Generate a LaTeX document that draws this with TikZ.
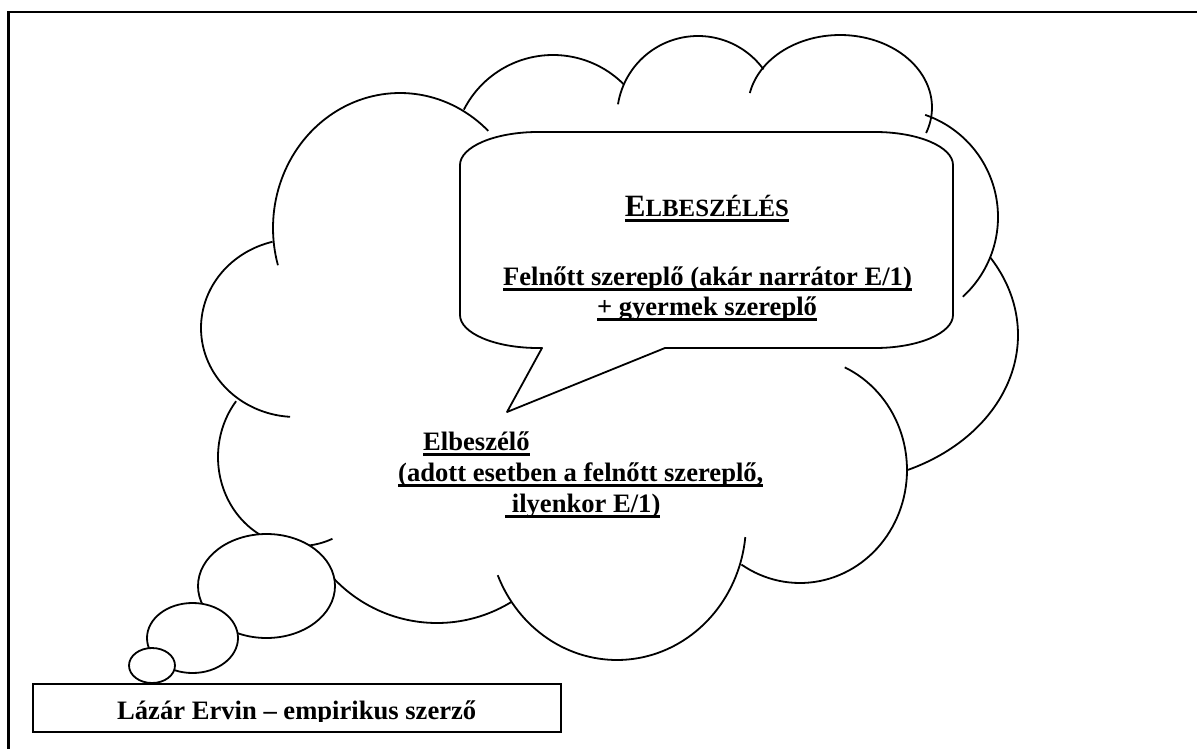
\documentclass[tikz,border=0pt]{standalone}
\usepackage{fontspec}
\setmainfont{Liberation Serif}
\newsavebox\ulsave
% underlined text: a thick rule under the whole box, spaces included
\newcommand\ulbox[1]{\sbox\ulsave{#1}\rlap{\rule[-5.8pt]{\wd\ulsave}{2.6pt}}\usebox\ulsave}
\tikzset{
  outline/.style={line width=1.8pt, black},
  bubble/.style={outline, fill=white, line join=round},
  label/.style={inner sep=0pt, font=\fontsize{26.6}{30.6}\selectfont\bfseries},
}
\begin{document}
\begin{tikzpicture}[x=1pt, y=-1pt]
\useasboundingbox (0,0) rectangle (1197,749);

% page frame (top and left edges)
\draw[line width=2.6pt] (1197,12) -- (8.5,12) -- (8.5,749);

% cloud outline: one elliptic arc per bump (cx/cy/rx/ry/from/to)
\foreach \cx/\cy/\rx/\ry/\a/\b in {
  400/228/127/135/164/314,
  553/155/100/100/207/315,
  698/117/81/81/189/324,
  840/107.5/92/72.5/191.5/380.6,
  890/217/108/108/-71/47.6,
  831/335/187/148/-31.8/65.7,
  800/470/107/113/-65.3/123.2,
  617/523/129/137/5.9/157.6,
  437/481/142/142/58.2/150,
  300/457/82/89/66.7/218.8,
  296/328/95/89/93.6/255.7}
  \draw[outline] plot[domain=\a:\b, samples=70, variable=\t]
    ({\cx+\rx*cos(\t)}, {\cy+\ry*sin(\t)});

% thought bubbles trailing down to the author box
\filldraw[bubble] (266.5,586) ellipse [x radius=68.5, y radius=52];
\filldraw[bubble] (192.5,638) ellipse [x radius=45.5, y radius=35];
\filldraw[bubble] (152,665.5) ellipse [x radius=23, y radius=17.5];

% speech bubble with its wedge
\filldraw[bubble]
  (538,132) -- (875,132)
  .. controls (918,132) and (953,146.8) .. (953,165)
  -- (953,315)
  .. controls (953,333.2) and (918,348) .. (875,348)
  -- (665,348) -- (507,412) -- (542,348) -- (538,348)
  .. controls (495,348) and (460,333.2) .. (460,315)
  -- (460,165)
  .. controls (460,146.8) and (495,132) .. cycle;

\node[label, anchor=base] (title) at (707,216)
  {\ulbox{\fontsize{31}{36}\selectfont E\fontsize{24.8}{30}\selectfont LBESZÉLÉS}};
\node[label, anchor=base] (story1) at (707.5,285)
  {\ulbox{Felnőtt szereplő (akár narrátor E/1)}};
\node[label, anchor=base] (story2) at (707,315)
  {\ulbox{+ gyermek szereplő}};

% narrator text inside the cloud
\node[label, anchor=base west] (narr1) at (423,450) {\ulbox{Elbeszélő}};
\node[label, anchor=base west] (narr2) at (398,481)
  {\ulbox{(adott esetben a felnőtt szereplő,}};
\node[label, anchor=base west] (narr3) at (505,512)
  {\ulbox{\ ilyenkor E/1)}};

% author box, its text cut off just below the baseline
\draw[line width=2pt] (33,684) rectangle (561,732);
\begin{scope}
  \clip (0,690) rectangle (1197,721);
  \node[label, anchor=base west] (author) at (117,719)
    {Lázár Ervin – empirikus szerző};
\end{scope}
\end{tikzpicture}
\end{document}
